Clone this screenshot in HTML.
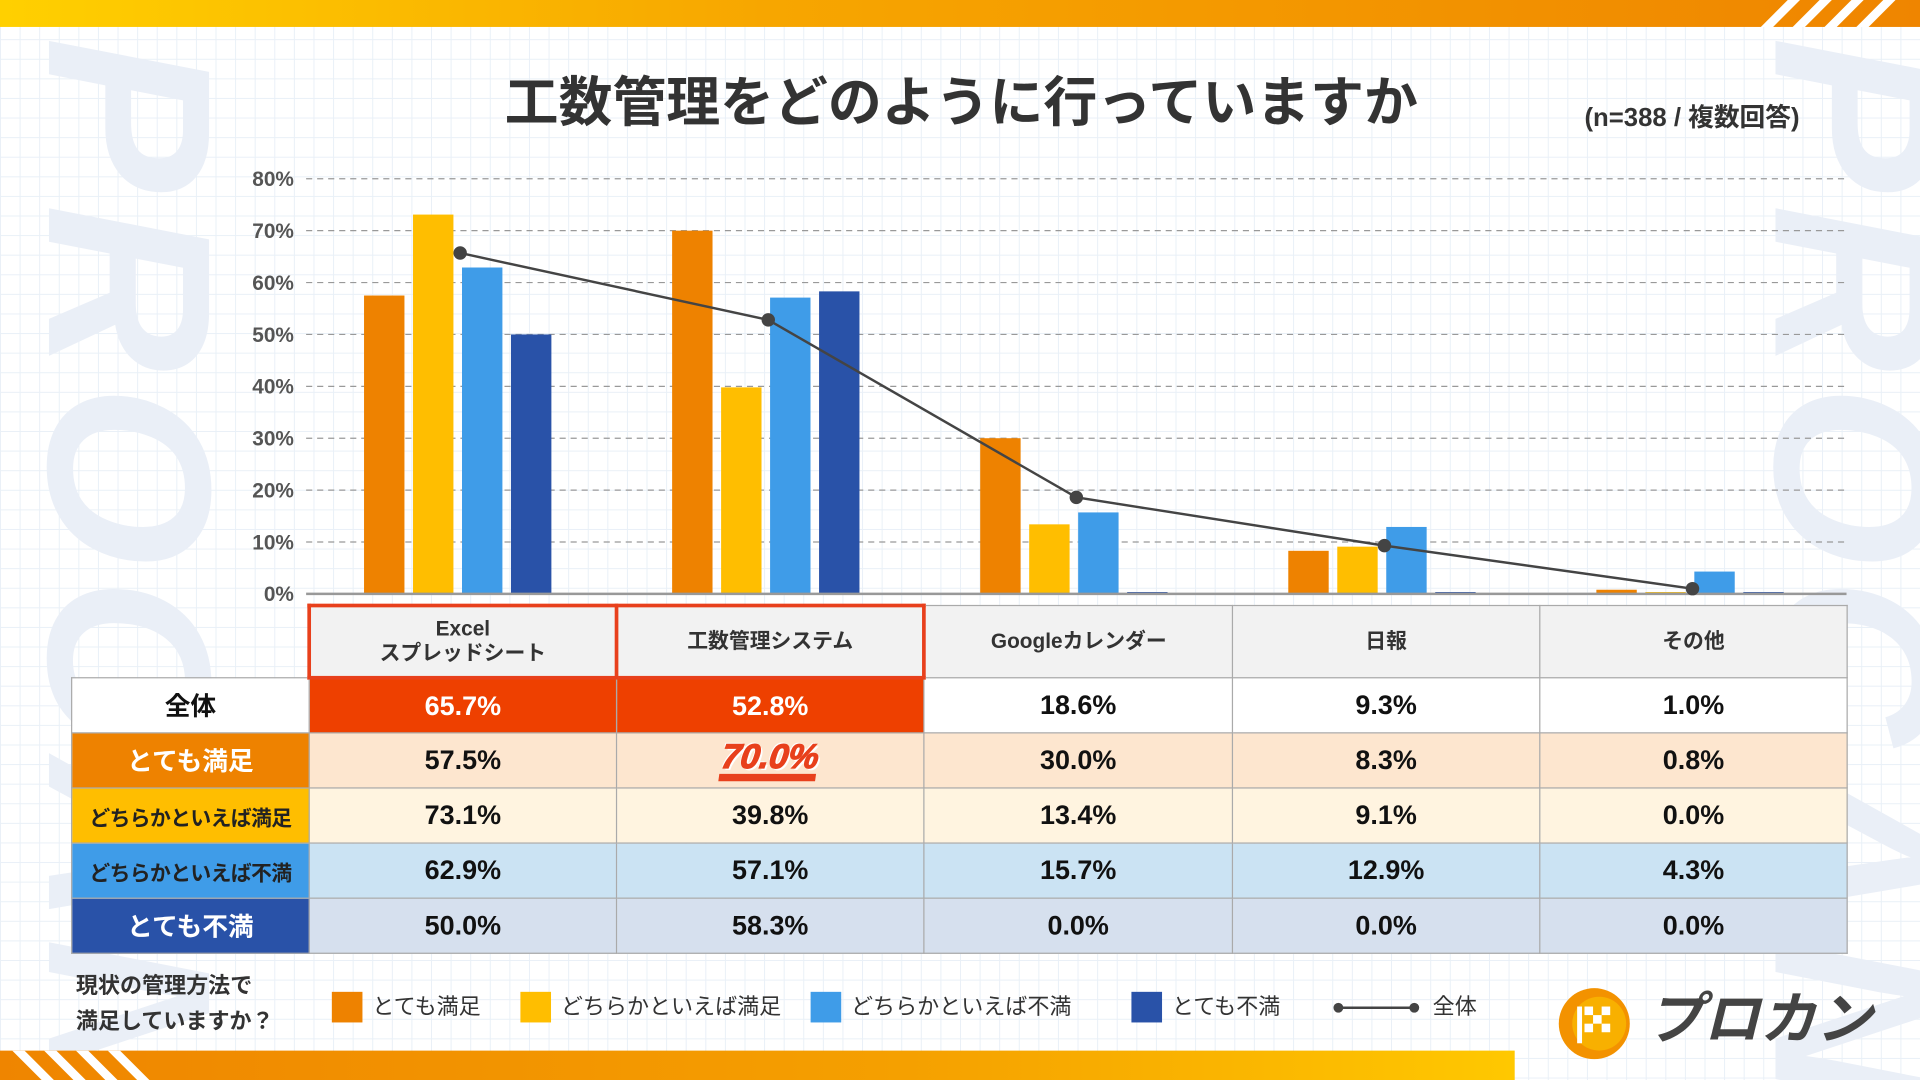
<!DOCTYPE html>
<html><head><meta charset="utf-8">
<style>
html,body{margin:0;padding:0;width:1920px;height:1080px;overflow:hidden;background:#fff}
#wrap{position:absolute;left:0;top:0;width:1568px;height:882px;transform:scale(1.22449);transform-origin:0 0;
font-family:"Liberation Sans","Noto Sans CJK JP",sans-serif;color:#333;
background-color:#fff;background-image:linear-gradient(#e9f0f7 1px,transparent 1px),linear-gradient(90deg,#e9f0f7 1px,transparent 1px);background-size:16px 16px;overflow:hidden}
.wm{position:absolute;font-weight:bold;font-size:190px;color:#eaeff7;writing-mode:vertical-rl;font-style:italic;letter-spacing:10px;line-height:1}
.abs{position:absolute}
table{border-collapse:collapse;position:absolute;left:58px;top:493px;table-layout:fixed}
td{border:1px solid #aaa;text-align:center;font-weight:bold;font-size:22px;color:#111;padding:0}
td.h{background:#f2f2f2;font-size:17px;color:#333;height:56px;line-height:20px}
td.lab{font-size:21px}
.leg{position:absolute;top:810px;font-size:18px;color:#333;height:25px;line-height:25px}
.sw{position:absolute;top:810px;width:25px;height:25px}
</style></head><body>
<div id="wrap">
<div class="wm" style="left:10px;top:30px">PROCAN</div>
<div class="wm" style="left:1420px;top:30px">PROCAN</div>
<div class="abs" style="left:0;top:0;width:1568px;height:22px;background:linear-gradient(90deg,#ffd000,#f7a600 40%,#ef8500)"></div>
<svg class="abs" style="left:1420px;top:0" width="148" height="22">
<g fill="#fff"><polygon points="18,22 28,22 50,0 40,0"/><polygon points="44,22 54,22 76,0 66,0"/><polygon points="70,22 80,22 102,0 92,0"/><polygon points="96,22 106,22 128,0 118,0"/></g></svg>
<div class="abs" style="left:0;top:858px;width:1237px;height:24px;background:linear-gradient(90deg,#ef8500,#f5a000 60%,#ffc800)"></div>
<svg class="abs" style="left:0;top:858px" width="150" height="24">
<g fill="#fff"><polygon points="10,0 20,0 44,24 34,24"/><polygon points="36,0 46,0 70,24 60,24"/><polygon points="62,0 72,0 96,24 86,24"/><polygon points="88,0 98,0 122,24 112,24"/></g></svg>

<div class="abs" style="left:300px;width:970px;top:58px;text-align:center;font-size:44px;font-weight:bold;color:#333;line-height:54px">工数管理をどのように行っていますか</div>
<div class="abs" style="left:1294px;top:80px;font-size:21px;font-weight:bold;color:#333">(n=388 / 複数回答)</div>

<svg id="chart" class="abs" style="left:0;top:0" width="1568" height="500"></svg>

<table id="tbl"></table>

<div class="abs" style="left:62px;top:791px;font-size:18px;font-weight:bold;line-height:29px;color:#333">現状の管理方法で<br>満足していますか？</div>
<div class="sw" style="left:271px;background:#ee8200"></div>
<div class="leg" style="left:304px">とても満足</div>
<div class="sw" style="left:425px;background:#ffbe00"></div>
<div class="leg" style="left:458px">どちらかといえば満足</div>
<div class="sw" style="left:662px;background:#3f9ce8"></div>
<div class="leg" style="left:695px">どちらかといえば不満</div>
<div class="sw" style="left:924px;background:#2952a8"></div>
<div class="leg" style="left:957px">とても不満</div>
<svg class="abs" style="left:1088px;top:813px" width="72" height="20"><line x1="5" y1="10" x2="67" y2="10" stroke="#444" stroke-width="2"/><circle cx="5" cy="10" r="4" fill="#444"/><circle cx="67" cy="10" r="4" fill="#444"/></svg>
<div class="leg" style="left:1170px">全体</div>

<svg class="abs" style="left:1270px;top:800px" width="70" height="70">
<circle cx="32" cy="36" r="29" fill="#f39200"/><circle cx="36" cy="36" r="22" fill="#f8b000"/>
<rect x="18" y="22" width="4" height="30" fill="#fff"/>
<g fill="#fff"><rect x="24" y="22" width="7" height="7"/><rect x="38" y="22" width="7" height="7"/><rect x="31" y="29" width="7" height="7"/><rect x="24" y="36" width="7" height="7"/><rect x="38" y="36" width="7" height="7"/></g></svg>
<div class="abs" style="left:1345px;top:802px;font-size:46px;font-weight:bold;font-style:italic;color:#444;line-height:60px">プロカン</div>
</div>
<script>
const categories=["Excel\nスプレッドシート","工数管理システム","Googleカレンダー","日報","その他"];
const verySatisfied=[57.5,70.0,30.0,8.3,0.8];
const somewhatSatisfied=[73.1,39.8,13.4,9.1,0.0];
const somewhatDissatisfied=[62.9,57.1,15.7,12.9,4.3];
const veryDissatisfied=[50.0,58.3,0.0,0.0,0.0];
const total=[65.7,52.8,18.6,9.3,1.0];
const yTicks=[0,10,20,30,40,50,60,70,80];

const NS="http://www.w3.org/2000/svg";
const svg=document.getElementById('chart');
const X0=250,X1=1508,Y0=485,Y80=146;
const bw=(X1-X0)/categories.length;
function y(v){return Y0-(v/80)*(Y0-Y80);}
function xc(i){return X0+bw*(i+0.5);}
function mk(t,a){const e=document.createElementNS(NS,t);for(const k in a)e.setAttribute(k,a[k]);svg.appendChild(e);return e;}
yTicks.forEach(t=>{
  if(t>0){const g=mk('line',{x1:X0,x2:X1,y1:y(t),y2:y(t),stroke:'#999','stroke-dasharray':'5,4','stroke-width':1});
  
  }
  const l=mk('text',{x:240,y:y(t)+6,'text-anchor':'end','font-size':17,'font-weight':'bold',fill:'#555'});
  l.textContent=t+'%';
  
  
});
const series=[verySatisfied,somewhatSatisfied,somewhatDissatisfied,veryDissatisfied];
const colors=['#ee8200','#ffbe00','#3f9ce8','#2952a8'];
const snames=['very-satisfied','somewhat-satisfied','somewhat-dissatisfied','very-dissatisfied'];
const barW=33,gap=7;
series.forEach((s,si)=>{
  s.forEach((v,i)=>{
    const x=xc(i)-(4*barW+3*gap)/2+si*(barW+gap)-2;
    const h=Math.max(Y0-y(v),1.5);
    const r=mk('rect',{x:x,y:Y0-h,width:barW,height:h,fill:colors[si]});
    
    
  });
});
const ax=mk('line',{x1:X0,x2:X1,y1:Y0,y2:Y0,stroke:'#999','stroke-width':2});


const pl=mk('polyline',{points:total.map((v,i)=>xc(i)+','+y(v)).join(' '),fill:'none',stroke:'#444','stroke-width':2});


total.forEach((v,i)=>{const c=mk('circle',{cx:xc(i),cy:y(v),r:5.5,fill:'#444'});
  
  });

const tbl=document.getElementById('tbl');
const cg=document.createElement('colgroup');
[194,251,251,252,251,251].forEach(w=>{const c=document.createElement('col');c.style.width=w+'px';cg.appendChild(c);});
tbl.appendChild(cg);
const hr=document.createElement('tr');
const e0=document.createElement('td');e0.style.border='none';e0.style.background='transparent';hr.appendChild(e0);
categories.forEach((c,i)=>{const td=document.createElement('td');td.className='h';td.innerHTML=c.replace('\n','<br>');
  if(i<2){td.style.border='3px solid #e8401c';}
  
  
  hr.appendChild(td);});
tbl.appendChild(hr);
const rows=[['全体',total,'#fff','#111','#fff'],['とても満足',verySatisfied,'#ee8200','#fff','#fde6cf'],['どちらかといえば満足',somewhatSatisfied,'#ffbe00','#222','#fff4e0'],['どちらかといえば不満',somewhatDissatisfied,'#3f9ce8','#222','#cbe3f3'],['とても不満',veryDissatisfied,'#2952a8','#fff','#d6e0ee']];
rows.forEach((r,ri)=>{
  const tr=document.createElement('tr');tr.style.height='45px';
  const l=document.createElement('td');l.className='lab';l.textContent=r[0];l.style.background=r[2];l.style.color=r[3];
  if(r[0].length>6){l.style.fontSize='17px';l.style.letterSpacing='-0.5px';}
  
  
  tr.appendChild(l);
  r[1].forEach((v,i)=>{const td=document.createElement('td');td.style.background=r[4];td.textContent=v.toFixed(1)+'%';
    if(ri===0&&i<2){td.style.background='#ee4000';td.style.color='#fff';}
    if(ri===1&&i===1){td.innerHTML='<span style="display:inline-block;font-style:italic;font-size:28px;color:#e8401c;-webkit-text-stroke:1px #e8401c;text-shadow:2px 2px 0 #fff,-1px -1px 0 #fff;border-bottom:6px solid #e8401c;line-height:28px;transform:skewX(-8deg)">'+v.toFixed(1)+'%</span>';}
    
    
    tr.appendChild(td);});
  tbl.appendChild(tr);
});
</script>
</body></html>
